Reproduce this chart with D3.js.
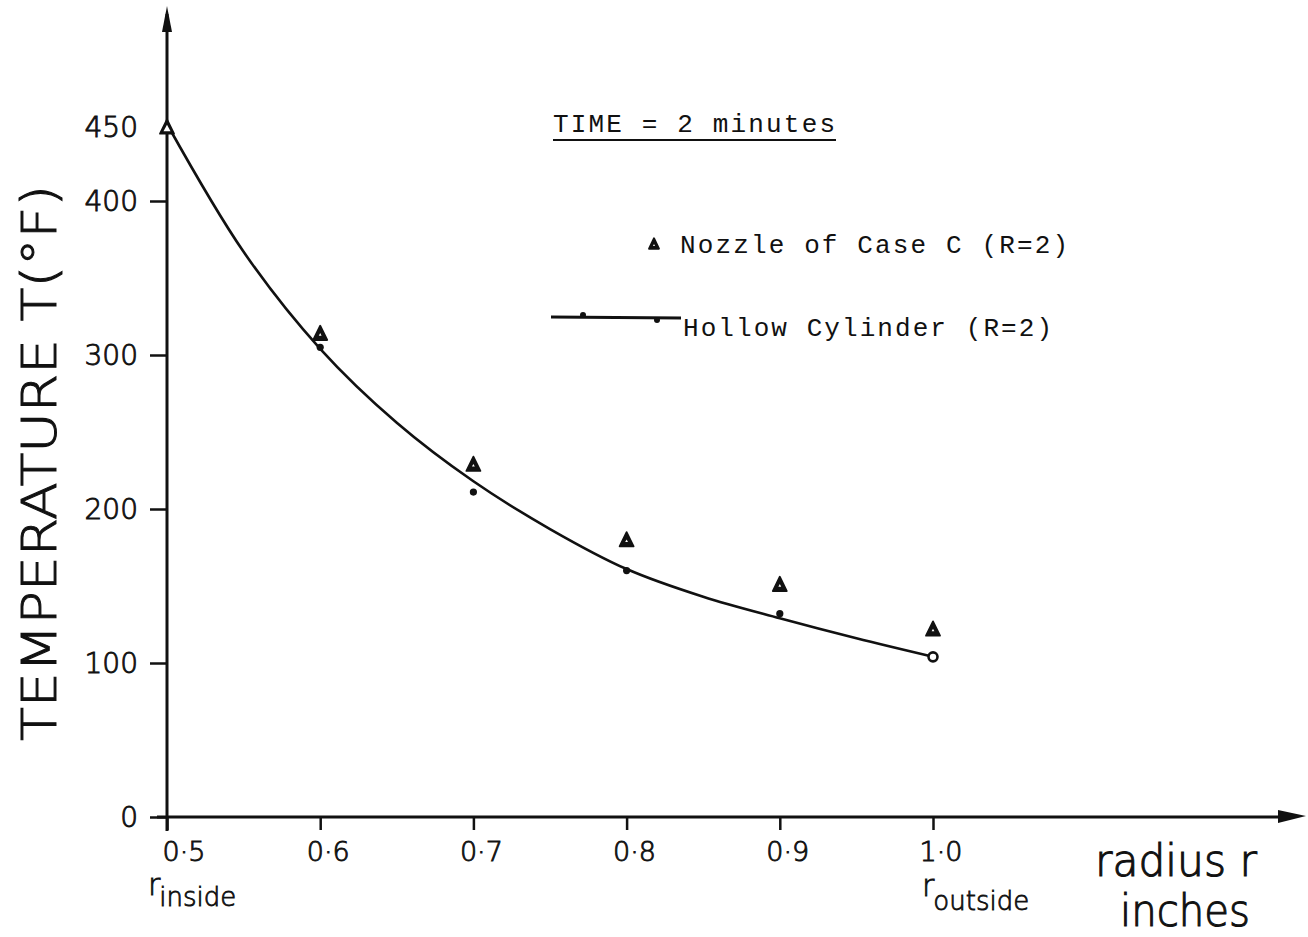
<!DOCTYPE html>
<html>
<head>
<meta charset="utf-8">
<script src="https://cdn.jsdelivr.net/npm/d3@7/dist/d3.min.js"></script>
<style>
  html, body { margin: 0; padding: 0; background: #fff; }
  svg { display: block; }
</style>
</head>
<body>
<svg id="chart" width="1308" height="937"></svg>
<script>
// Radial temperature distribution through the wall, 2 minutes after start
const radius = [0.5, 0.6, 0.7, 0.8, 0.9, 1.0];
const radiusLabels = ["0·5", "0·6", "0·7", "0·8", "0·9", "1·0"];
const nozzleT = [450, 316, 231, 182, 153, 124];     // Nozzle of Case C (R=2)
const cylinderT = [450, 305, 211, 160, 132, 104];   // Hollow Cylinder (R=2)

// smooth Hollow Cylinder curve
const curveRadius = [0.5, 0.55, 0.6, 0.65, 0.7, 0.75, 0.8, 0.85, 0.9, 0.95, 1.0];
const curveT = [450, 367, 304, 256, 218, 187, 161, 143, 129, 116, 104];

const tempTicks = [0, 100, 200, 300, 400];
const tempLabels = [450, 400, 300, 200, 100, 0];

const svg = d3.select("#chart");
const ink = "#111";

const x = d3.scaleLinear().domain([0.5, 1.0]).range([167, 933]);
const y = d3.scaleLinear().domain([0, 450]).range([817, 124]);

const handFont = "'DejaVu Sans', 'Open Sans', sans-serif";
const typeFont = "'Liberation Mono', 'DejaVu Sans Mono', monospace";

// ---- axes ----
const xAxisEnd = 1290;
svg.append("line")
  .attr("x1", 157).attr("x2", xAxisEnd)
  .attr("y1", y(0)).attr("y2", y(0))
  .attr("stroke", ink).attr("stroke-width", 3);
svg.append("path")
  .attr("d", `M${xAxisEnd - 12},${y(0) - 7} L${xAxisEnd + 16},${y(0) - 1} L${xAxisEnd - 12},${y(0) + 6} Z`)
  .attr("fill", ink);

svg.append("line")
  .attr("x1", x(0.5)).attr("x2", x(0.5))
  .attr("y1", 14).attr("y2", y(0) + 14)
  .attr("stroke", ink).attr("stroke-width", 3);
svg.append("path")
  .attr("d", `M${x(0.5)},6 L${x(0.5) + 5},32 L${x(0.5) - 5},32 Z`)
  .attr("fill", ink);

// y ticks
const yAxis = d3.axisLeft(y).tickValues(tempTicks).tickSize(17).tickFormat("");
const yg = svg.append("g").attr("transform", `translate(${x(0.5)},0)`).call(yAxis);
yg.select(".domain").remove();
yg.selectAll(".tick line").attr("stroke", ink).attr("stroke-width", 2.5);

// x ticks
const xAxis = d3.axisBottom(x).tickValues(radius).tickSize(13).tickFormat("");
const xg = svg.append("g").attr("transform", `translate(0,${y(0)})`).call(xAxis);
xg.select(".domain").remove();
xg.selectAll(".tick line").attr("stroke", ink).attr("stroke-width", 2.5);

// lettering-guide style: light face thickened with a thin outline
function lettering(sel, w) {
  return sel.attr("font-family", handFont).attr("font-weight", 300)
    .attr("fill", ink).attr("stroke", ink).attr("stroke-width", w);
}

// y tick labels
lettering(svg.selectAll("text.ylab").data(tempLabels).enter().append("text"), 0.9)
  .attr("class", "ylab")
  .attr("x", 138)
  .attr("y", d => y(d) + (d === 450 ? 13 : 10))
  .attr("text-anchor", "end")
  .attr("font-size", 28)
  .text(d => d);

// x tick labels
lettering(svg.selectAll("text.xlab").data(radius).enter().append("text"), 0.9)
  .attr("class", "xlab")
  .attr("x", (d, i) => x(d) + (i === 0 ? 17 : 8))
  .attr("y", 861)
  .attr("text-anchor", "middle")
  .attr("font-size", 27)
  .text((d, i) => radiusLabels[i]);

// r_inside / r_outside
function subLabel(px, py, sub, drop) {
  const t = lettering(svg.append("text"), 0.8).attr("x", px).attr("y", py);
  t.append("tspan").attr("font-size", 30).text("r");
  t.append("tspan").attr("font-size", 26).attr("dy", drop).attr("dx", -1).text(sub);
}
subLabel(x(0.5) - 19, 895, "inside", 11);
subLabel(x(1.0) - 11, 896, "outside", 14);

// x axis title
lettering(svg.append("text"), 1.1).attr("x", 1095).attr("y", 876)
  .attr("font-size", 44)
  .attr("textLength", 162).attr("lengthAdjust", "spacingAndGlyphs")
  .text("radius r");
lettering(svg.append("text"), 1.1).attr("x", 1120).attr("y", 926)
  .attr("font-size", 44)
  .attr("textLength", 130).attr("lengthAdjust", "spacingAndGlyphs")
  .text("inches");

// y axis title
lettering(svg.append("text"), 1.0)
  .attr("transform", "translate(56,463) rotate(-90)")
  .attr("text-anchor", "middle")
  .attr("font-size", 48)
  .attr("textLength", 556)
  .attr("lengthAdjust", "spacingAndGlyphs")
  .text("TEMPERATURE T(°F)");

// ---- Hollow Cylinder curve ----
const line = d3.line()
  .x((d, i) => x(curveRadius[i]))
  .y(d => y(d))
  .curve(d3.curveCatmullRom.alpha(0.5));
svg.append("path")
  .datum(curveT)
  .attr("d", line)
  .attr("fill", "none")
  .attr("stroke", ink)
  .attr("stroke-width", 2.6);

// Hollow Cylinder points
const lastCyl = cylinderT.length - 2;
svg.selectAll("circle.cyl").data(cylinderT.slice(1)).enter().append("circle")
  .attr("class", "cyl")
  .attr("cx", (d, i) => x(radius[i + 1]))
  .attr("cy", d => y(d))
  .attr("r", (d, i) => i === lastCyl ? 4.5 : 3.6)
  .attr("fill", (d, i) => i === lastCyl ? "#fff" : ink)
  .attr("stroke", ink)
  .attr("stroke-width", (d, i) => i === lastCyl ? 2.6 : 0);

// Nozzle triangle marker
function triangle(g, cx, cy, s, hollow) {
  const h = s * 0.95;
  g.append("path")
    .attr("d", `M${cx},${cy - h / 2 - 1} L${cx + s / 2},${cy + h / 2} L${cx - s / 2},${cy + h / 2} Z`)
    .attr("fill", ink).attr("stroke", ink).attr("stroke-width", 1.8).attr("stroke-linejoin", "round");
  const k = hollow ? 0.5 : 0.2;
  g.append("path")
    .attr("d", `M${cx},${cy - h * k / 2 + 1} L${cx + s * k / 2},${cy + h * k / 2 + 1} L${cx - s * k / 2},${cy + h * k / 2 + 1} Z`)
    .attr("fill", "#fff");
}
const tri = svg.append("g");
nozzleT.forEach((t, i) => triangle(tri, x(radius[i]), y(t) + 3, 14, i === 0));

// ---- annotations / legend ----
svg.append("text").attr("x", 553).attr("y", 132)
  .attr("font-family", typeFont).attr("font-size", 26)
  .attr("textLength", 282).attr("lengthAdjust", "spacing")
  .attr("fill", ink).text("TIME = 2 minutes");
svg.append("line").attr("x1", 553).attr("x2", 836).attr("y1", 140).attr("y2", 140)
  .attr("stroke", ink).attr("stroke-width", 2);

triangle(svg.append("g"), 654, 244, 10, false);
svg.append("text").attr("x", 680).attr("y", 253)
  .attr("font-family", typeFont).attr("font-size", 26)
  .attr("textLength", 388).attr("lengthAdjust", "spacing")
  .attr("fill", ink).text("Nozzle of Case C (R=2)");

svg.append("line").attr("x1", 551).attr("x2", 681).attr("y1", 317).attr("y2", 318)
  .attr("stroke", ink).attr("stroke-width", 2.8);
svg.append("circle").attr("cx", 583).attr("cy", 315).attr("r", 3).attr("fill", ink);
svg.append("circle").attr("cx", 657).attr("cy", 320).attr("r", 3).attr("fill", ink);
svg.append("text").attr("x", 683).attr("y", 336)
  .attr("font-family", typeFont).attr("font-size", 26)
  .attr("textLength", 369).attr("lengthAdjust", "spacing")
  .attr("fill", ink).text("Hollow Cylinder (R=2)");
</script>
</body>
</html>
